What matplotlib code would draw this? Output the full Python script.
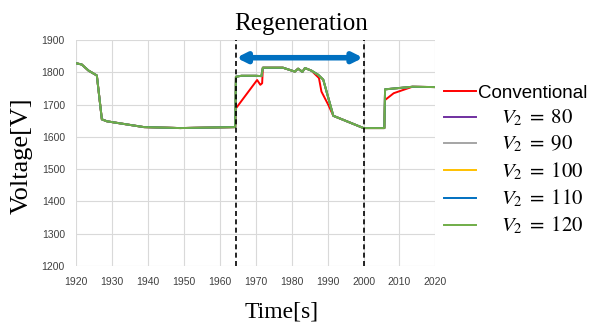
import numpy as np
import matplotlib
matplotlib.use("Agg")
import matplotlib.pyplot as plt

plt.rcParams['mathtext.fontset'] = 'stix'

# green trace (V2 = 80..120 coincide with it)
t_v2 = [1920, 1921.6, 1923.5, 1925.8, 1927.2, 1928.6, 1938.9, 1949, 1964.3, 1964.5,
        1966, 1970, 1971.6, 1972, 1977.6, 1980.9, 1981.8, 1983, 1983.7, 1985.5,
        1987.4, 1988.8, 1991.6, 2000, 2005.8, 2006, 2013.6, 2020]
v_v2 = [1828, 1824, 1805, 1790, 1654, 1648, 1630, 1627, 1630, 1786,
        1789, 1789, 1788, 1814, 1814, 1802, 1811, 1801, 1813, 1805,
        1792, 1777, 1665, 1627, 1627, 1747, 1755, 1754]

# red trace (conventional)
t_conv = [1920, 1921.6, 1923.5, 1925.8, 1927.2, 1928.6, 1938.9, 1949, 1964.3, 1964.5,
          1970.4, 1971.3, 1971.8, 1972, 1977.6, 1980.9, 1981.8, 1983, 1983.7, 1985.5,
          1987.6, 1988.3, 1990.2, 1991.6, 2000, 2005.8, 2006, 2008.4, 2013.6, 2020]
v_conv = [1828, 1824, 1805, 1790, 1654, 1648, 1630, 1627, 1630, 1688,
          1776, 1761, 1766, 1814, 1814, 1802, 1811, 1801, 1813, 1805,
          1782, 1740, 1699, 1665, 1627, 1627, 1714, 1735, 1755, 1754]

labels = ['Conventional', r'    $V_2\;=\;80$', r'    $V_2\;=\;90$', r'    $V_2\;=\;100$',
          r'    $V_2\;=\;110$', r'    $V_2\;=\;120$']
colors = ['#FF0000', '#7030A0', '#A5A5A5', '#FFC000', '#0070C0', '#70AD47']

regen_start, regen_end = 1964.4, 2000.1
arrow_level = 1845

fig = plt.figure(figsize=(5.96, 3.25), dpi=100)
ax = fig.add_axes([0.1275, 0.182, 0.603, 0.695])

ax.plot(t_conv, v_conv, color=colors[0], lw=1.4, label=labels[0], zorder=3)
for lab, c in zip(labels[1:], colors[1:]):
    ax.plot(t_v2, v_v2, color=c, lw=1.4, label=lab, zorder=4)

ax.set_xlim(1920, 2020)
ax.set_ylim(1200, 1900)
ax.set_xticks(np.arange(1920, 2021, 10))
ax.set_yticks(np.arange(1200, 1901, 100))
ax.grid(True, color='#D9D9D9', lw=0.8)
for s in ax.spines.values():
    s.set_visible(False)
ax.tick_params(length=0, labelsize=7.5, colors='#404040', pad=8)
for lab in ax.get_xticklabels() + ax.get_yticklabels():
    lab.set_fontfamily('Liberation Sans')

for x in (regen_start, regen_end):
    ax.axvline(x, color='black', ls=(0, (3, 2)), lw=1.2, zorder=5)

ax.annotate('', xy=(regen_start + 0.2, arrow_level), xytext=(regen_end - 0.2, arrow_level),
            arrowprops=dict(arrowstyle='<|-|>', color='#0070C0', lw=4,
                            mutation_scale=14, shrinkA=0, shrinkB=0), zorder=6)

fig.text(0.505, 0.925, 'Regeneration', ha='center', va='center',
         fontsize=18, family='Liberation Serif')
fig.text(0.036, 0.522, 'Voltage[V]', ha='center', va='center', rotation=90,
         fontsize=19, family='Liberation Serif')
fig.text(0.473, 0.04, 'Time[s]', ha='center', va='center',
         fontsize=17, family='Liberation Serif')

leg = fig.legend(loc='upper left', bbox_to_anchor=(0.745, 0.74), frameon=False,
                 fontsize=13.5, handlelength=1.7, labelspacing=0.3, handletextpad=0.1,
                 borderaxespad=0, borderpad=0)
for i, txt in enumerate(leg.get_texts()):
    txt.set_fontfamily('Liberation Sans')
    if i > 0:
        txt.set_fontsize(15)

fig.savefig('out.png', dpi=100)
